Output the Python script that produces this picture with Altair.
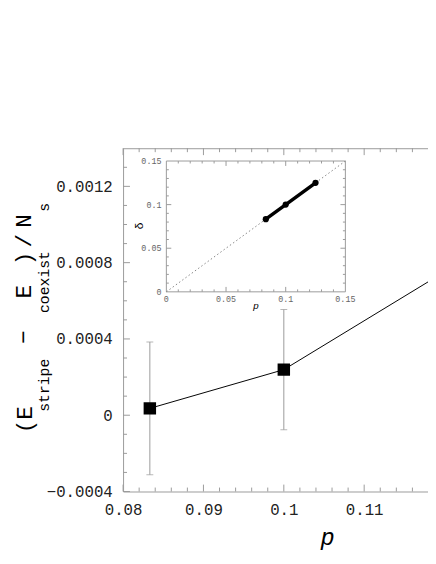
import altair as alt
import pandas as pd

# ---------------- data ----------------
p_vals = [0.08333, 0.1, 0.125]
e_vals = [0.000036, 0.000239, 0.00088]
e_err = [0.000348, 0.000315, 0.00032]

x_major = [0.08, 0.09, 0.1, 0.11]
x_minor = [0.082, 0.084, 0.086, 0.088, 0.092, 0.094, 0.096, 0.098,
           0.102, 0.104, 0.106, 0.108, 0.112, 0.114, 0.116]
y_major = [-0.0004, 0.0, 0.0004, 0.0008, 0.0012]
y_minor = [-0.0003, -0.0002, -0.0001, 0.0001, 0.0002, 0.0003, 0.0005,
           0.0006, 0.0007, 0.0009, 0.0010, 0.0011, 0.0013]

inset_p = [0.08333, 0.1, 0.125]
inset_delta = [0.08333, 0.1, 0.125]
diag = [0.0, 0.15]
inset_major = [0.05, 0.1]
inset_labels = [0.0, 0.05, 0.1, 0.15]
inset_label_text = ["0", "0.05", "0.1", "0.15"]
inset_minor = [0.01, 0.02, 0.03, 0.04, 0.06, 0.07, 0.08, 0.09,
               0.11, 0.12, 0.13, 0.14]

# ---------------- layout ----------------
W, H = 310, 349
GRAY = "#9a9a9a"
FONT = "Liberation Mono"

xs = alt.Scale(domain=[0.08, 0.11794], nice=False, zero=False, padding=0)
ys = alt.Scale(domain=[-0.0004, 0.0014], nice=False, zero=False, padding=0)

df = pd.DataFrame({"p": p_vals, "e": e_vals,
                   "lo": [v - s for v, s in zip(e_vals, e_err)],
                   "hi": [v + s for v, s in zip(e_vals, e_err)]})

base_axes = alt.Chart(df).mark_point(opacity=0).encode(
    x=alt.X("p:Q", scale=xs,
            axis=alt.Axis(values=x_major, format="~g", domain=True, domainColor=GRAY,
                          ticks=False, grid=False, labelFont=FONT, labelFontSize=16,
                          labelFlush=False, labelOverlap=False,
                          labelColor="#222", labelPadding=10, title=None)),
    y=alt.Y("e:Q", scale=ys,
            axis=alt.Axis(values=y_major, format="~g", domain=True, domainColor=GRAY,
                          ticks=False, grid=False, labelFont=FONT, labelFontSize=16,
                          labelFlush=False, labelOverlap=False,
                          labelColor="#222", labelPadding=11, title=None)),
)

top_line = alt.Chart(pd.DataFrame({"a": [0]})).mark_rule(color=GRAY).encode(
    x=alt.value(0), x2=alt.value(W), y=alt.value(0.5))

def xticks(vals, length):
    d = pd.DataFrame({"v": vals})
    b = alt.Chart(d).mark_rule(color=GRAY).encode(
        x=alt.X("v:Q", scale=xs), y=alt.value(H), y2=alt.value(H - length))
    t = alt.Chart(d).mark_rule(color=GRAY).encode(
        x=alt.X("v:Q", scale=xs), y=alt.value(0), y2=alt.value(length))
    return [b, t]

def yticks(vals, length):
    d = pd.DataFrame({"v": vals})
    return [alt.Chart(d).mark_rule(color=GRAY).encode(
        y=alt.Y("v:Q", scale=ys), x=alt.value(0), x2=alt.value(length))]

tick_layers = xticks(x_major, 7) + xticks(x_minor, 4) + yticks(y_major, 7) + yticks(y_minor, 4)

err = alt.Chart(df).mark_rule(color=GRAY, clip=True).encode(
    x=alt.X("p:Q", scale=xs), y=alt.Y("lo:Q", scale=ys), y2="hi:Q")
cap_lo = alt.Chart(df).mark_tick(color=GRAY, size=7, thickness=1, orient="horizontal", clip=True).encode(
    x=alt.X("p:Q", scale=xs), y=alt.Y("lo:Q", scale=ys))
cap_hi = alt.Chart(df).mark_tick(color=GRAY, size=7, thickness=1, orient="horizontal", clip=True).encode(
    x=alt.X("p:Q", scale=xs), y=alt.Y("hi:Q", scale=ys))
line = alt.Chart(df).mark_line(color="black", strokeWidth=1, clip=True).encode(
    x=alt.X("p:Q", scale=xs), y=alt.Y("e:Q", scale=ys))
squares = alt.Chart(df).mark_square(color="black", size=160, opacity=1, clip=True).encode(
    x=alt.X("p:Q", scale=xs), y=alt.Y("e:Q", scale=ys))

def label(text, x, y, size, angle=0, italic=False, baseline="middle"):
    return alt.Chart(pd.DataFrame({"t": [text]})).mark_text(
        font=FONT, fontSize=size, angle=angle, align="center", baseline=baseline,
        color="black", fontStyle="italic" if italic else "normal").encode(
        x=alt.value(x), y=alt.value(y), text="t:N")

titles = [
    label("(E", -100, 276, 23, 270),
    label("stripe", -80, 241, 15, 270),
    label("\u2212", -101, 192, 23, 270),
    label("E", -101, 146, 23, 270),
    label("coexist", -80, 136, 15, 270),
    label(")", -101, 112, 23, 270),
    label("/", -101, 94, 23, 270),
    label("N", -101, 74, 23, 270),
    label("s", -80, 60, 15, 270),
    label("p", 208, 403, 24, 0, italic=True, baseline="alphabetic"),
]

main = alt.layer(base_axes, top_line, *tick_layers, err, cap_lo, cap_hi, line, squares, *titles)

# ---------------- inset ----------------
IX0, IX1, IY0, IY1 = 44, 226, 146, 13
ixs = alt.Scale(domain=[0, 0.15], range=[IX0, IX1], nice=False, zero=False, padding=0)
iys = alt.Scale(domain=[0, 0.15], range=[IY0, IY1], nice=False, zero=False, padding=0)

frame = alt.Chart(pd.DataFrame({"a": [diag[0]], "b": [diag[1]]})).mark_rect(
    fill="white", stroke=GRAY, strokeWidth=1).encode(
    x=alt.X("a:Q", scale=ixs, axis=None), x2="b:Q",
    y=alt.Y("a:Q", scale=iys, axis=None), y2="b:Q")

def ixticks(vals, length):
    d = pd.DataFrame({"v": vals})
    return [
        alt.Chart(d).mark_rule(color=GRAY).encode(
            x=alt.X("v:Q", scale=ixs, axis=None), y=alt.value(IY0), y2=alt.value(IY0 - length)),
        alt.Chart(d).mark_rule(color=GRAY).encode(
            x=alt.X("v:Q", scale=ixs, axis=None), y=alt.value(IY1), y2=alt.value(IY1 + length)),
        alt.Chart(d).mark_rule(color=GRAY).encode(
            y=alt.Y("v:Q", scale=iys, axis=None), x=alt.value(IX0), x2=alt.value(IX0 + length)),
        alt.Chart(d).mark_rule(color=GRAY).encode(
            y=alt.Y("v:Q", scale=iys, axis=None), x=alt.value(IX1), x2=alt.value(IX1 - length)),
    ]

inset_ticks = ixticks(inset_major, 5) + ixticks(inset_minor, 2.5)

ddf = pd.DataFrame({"x": diag, "y": diag})
diag_line = alt.Chart(ddf).mark_line(color="#777", strokeWidth=0.9, strokeDash=[1.5, 2.5]).encode(
    x=alt.X("x:Q", scale=ixs, axis=None), y=alt.Y("y:Q", scale=iys, axis=None))

idf = pd.DataFrame({"p": inset_p, "d": inset_delta})
thick = alt.Chart(idf).mark_line(color="black", strokeWidth=3.5).encode(
    x=alt.X("p:Q", scale=ixs, axis=None), y=alt.Y("d:Q", scale=iys, axis=None))
dots = alt.Chart(idf).mark_circle(color="black", size=40, opacity=1).encode(
    x=alt.X("p:Q", scale=ixs, axis=None), y=alt.Y("d:Q", scale=iys, axis=None))

ldf = pd.DataFrame({"v": inset_labels, "t": inset_label_text})
ilab_x = alt.Chart(ldf).mark_text(font=FONT, fontSize=8.5, color="#666", baseline="middle").encode(
    x=alt.X("v:Q", scale=ixs, axis=None), y=alt.value(IY0 + 7), text="t:N")
ilab_y = alt.Chart(ldf).mark_text(font=FONT, fontSize=8.5, color="#666", align="right",
                                  baseline="middle").encode(
    y=alt.Y("v:Q", scale=iys, axis=None), x=alt.value(IX0 - 5), text="t:N")

ititle_x = label("p", 135, 160, 10, 0, italic=True)
ititle_y = label("\u03b4", 16, 79, 12, 270)

inset = alt.layer(frame, *inset_ticks, diag_line, thick, dots, ilab_x, ilab_y, ititle_x, ititle_y)

chart = alt.layer(main, inset).resolve_scale(x="independent", y="independent").properties(
    width=W, height=H,
    padding={"left": 117, "top": 138, "right": 0, "bottom": 61},
    autosize=alt.AutoSizeParams(type="none"),
).configure_view(stroke=None)

chart.save("out.html", embed_options={"renderer": "svg", "actions": False})
